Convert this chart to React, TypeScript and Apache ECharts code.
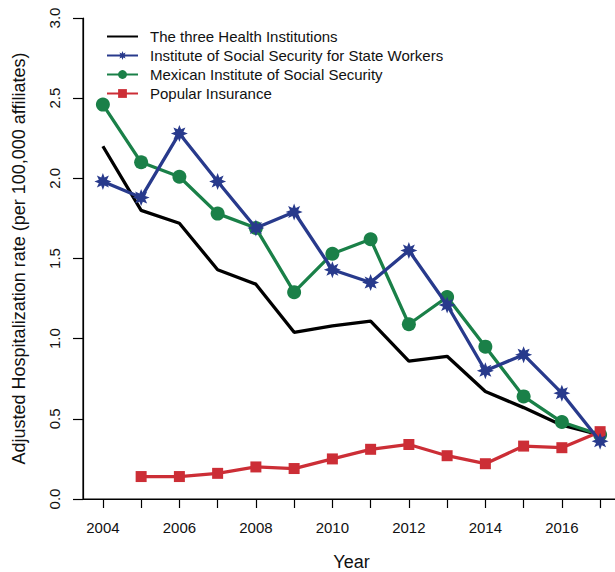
import React, { useEffect, useRef } from "react";
import * as echarts from "echarts";

const years = [2004, 2005, 2006, 2007, 2008, 2009, 2010, 2011, 2012, 2013, 2014, 2015, 2016, 2017];
const threeInstitutions = [2.2, 1.8, 1.72, 1.43, 1.34, 1.04, 1.08, 1.11, 0.86, 0.89, 0.67, 0.57, 0.46, 0.4];
const issste = [1.98, 1.88, 2.28, 1.98, 1.69, 1.79, 1.43, 1.35, 1.55, 1.21, 0.8, 0.9, 0.66, 0.36];
const imss = [2.46, 2.1, 2.01, 1.78, 1.69, 1.29, 1.53, 1.62, 1.09, 1.26, 0.95, 0.64, 0.48, 0.4];
const popularInsurance = [null, 0.14, 0.14, 0.16, 0.2, 0.19, 0.25, 0.31, 0.34, 0.27, 0.22, 0.33, 0.32, 0.42];
const seriesNames = [
  "The three Health Institutions",
  "Institute of Social Security for State Workers",
  "Mexican Institute of Social Security",
  "Popular Insurance",
];
const xTicks = [2004, 2005, 2006, 2007, 2008, 2009, 2010, 2011, 2012, 2013, 2014, 2015, 2016, 2017];
const xLabels = [2004, 2006, 2008, 2010, 2012, 2014, 2016];
const X_MIN = 2003.48;
const X_MAX = 2017.52;
const Y_MIN = 0;
const Y_MAX = 3;

function starPath(): string {
  const pts: string[] = [];
  for (let k = 0; k < 16; k++) {
    const a = (k * Math.PI) / 8 - Math.PI / 2;
    const r = k % 2 === 0 ? 50 : 26;
    const x = 50 + r * Math.cos(a);
    const y = 50 + r * Math.sin(a);
    pts.push(`${k === 0 ? "M" : "L"}${x.toFixed(2)} ${y.toFixed(2)}`);
  }
  return "path://" + pts.join(" ") + " Z";
}

const FONT = "'Liberation Sans', Arial, Helvetica, sans-serif";
const BLUE = "#283A8C";
const GREEN = "#1A8048";
const RED = "#CC2E36";

export default function App() {
  const ref = useRef<HTMLDivElement>(null);
  useEffect(() => {
    if (!ref.current) return;
    const chart = echarts.init(ref.current, null, { renderer: "svg" });
    const pair = (arr: (number | null)[]) => years.map((y, i) => [y, arr[i]]);
    chart.setOption({
      animation: false,
      backgroundColor: "#fff",
      textStyle: { fontFamily: FONT },
      grid: {
        left: 83,
        top: 18,
        width: 537,
        height: 481,
        containLabel: false,
        outerBoundsMode: "none",
      },
      legend: {
        orient: "vertical",
        left: 106,
        top: 29,
        padding: 0,
        itemWidth: 31,
        itemHeight: 11,
        itemGap: 4,
        textStyle: { fontSize: 15, color: "#111", fontFamily: FONT, padding: [0, 0, 0, 7] },
        data: [
          { name: seriesNames[0], itemStyle: { color: "rgba(0,0,0,0)", borderWidth: 0 } },
          { name: seriesNames[1] },
          { name: seriesNames[2] },
          { name: seriesNames[3] },
        ],
      },
      xAxis: {
        type: "value",
        min: X_MIN,
        max: X_MAX,
        name: "Year",
        nameLocation: "middle",
        nameGap: 54,
        nameTextStyle: { fontSize: 18, color: "#111", fontFamily: FONT },
        axisLine: { show: true, onZero: false, lineStyle: { color: "#000", width: 1.2 } },
        axisTick: { show: true, length: 9, lineStyle: { color: "#000", width: 1.2 }, customValues: xTicks },
        axisLabel: {
          show: true,
          fontSize: 15,
          color: "#111",
          margin: 21,
          fontFamily: FONT,
          customValues: xLabels,
          formatter: (v: number) => String(v),
        },
        splitLine: { show: false },
      },
      yAxis: {
        type: "value",
        min: Y_MIN,
        max: Y_MAX,
        interval: 0.5,
        name: "Adjusted Hospitalization rate (per 100,000 affiliates)",
        nameLocation: "middle",
        nameGap: 55,
        nameTextStyle: { fontSize: 18, color: "#111", fontFamily: FONT },
        axisLine: { show: true, onZero: false, lineStyle: { color: "#000", width: 1.2 } },
        axisTick: { show: true, length: 10, lineStyle: { color: "#000", width: 1.2 } },
        axisLabel: {
          fontSize: 15,
          color: "#111",
          rotate: 90,
          margin: 21,
          fontFamily: FONT,
          formatter: (v: number) => v.toFixed(1),
        },
        splitLine: { show: false },
      },
      series: [
        {
          name: "frame",
          type: "line",
          data: [
            [X_MIN, Y_MAX],
            [X_MIN, Y_MIN],
            [X_MAX, Y_MIN],
          ],
          symbol: "none",
          silent: true,
          clip: false,
          lineStyle: { color: "#000", width: 1.2 },
          itemStyle: { color: "#000" },
          z: 1,
        },
        {
          name: seriesNames[0],
          type: "line",
          data: pair(threeInstitutions),
          symbol: "none",
          lineStyle: { color: "#000", width: 3.3 },
          itemStyle: { color: "#000" },
          z: 2,
        },
        {
          name: seriesNames[2],
          type: "line",
          data: pair(imss),
          symbol: "circle",
          symbolSize: 14,
          lineStyle: { color: GREEN, width: 3.3 },
          itemStyle: { color: GREEN },
          z: 3,
        },
        {
          name: seriesNames[3],
          type: "line",
          data: pair(popularInsurance),
          symbol: "rect",
          symbolSize: 11,
          lineStyle: { color: RED, width: 3.3 },
          itemStyle: { color: RED },
          z: 4,
        },
        {
          name: seriesNames[1],
          type: "line",
          data: pair(issste),
          symbol: starPath(),
          symbolSize: 17,
          lineStyle: { color: BLUE, width: 3.3 },
          itemStyle: { color: BLUE },
          z: 5,
        },
      ],
    });
    return () => chart.dispose();
  }, []);
  return (
    <div
      ref={ref}
      style={{ position: "fixed", left: 0, top: 0, width: 615, height: 572, background: "#fff" }}
    />
  );
}
